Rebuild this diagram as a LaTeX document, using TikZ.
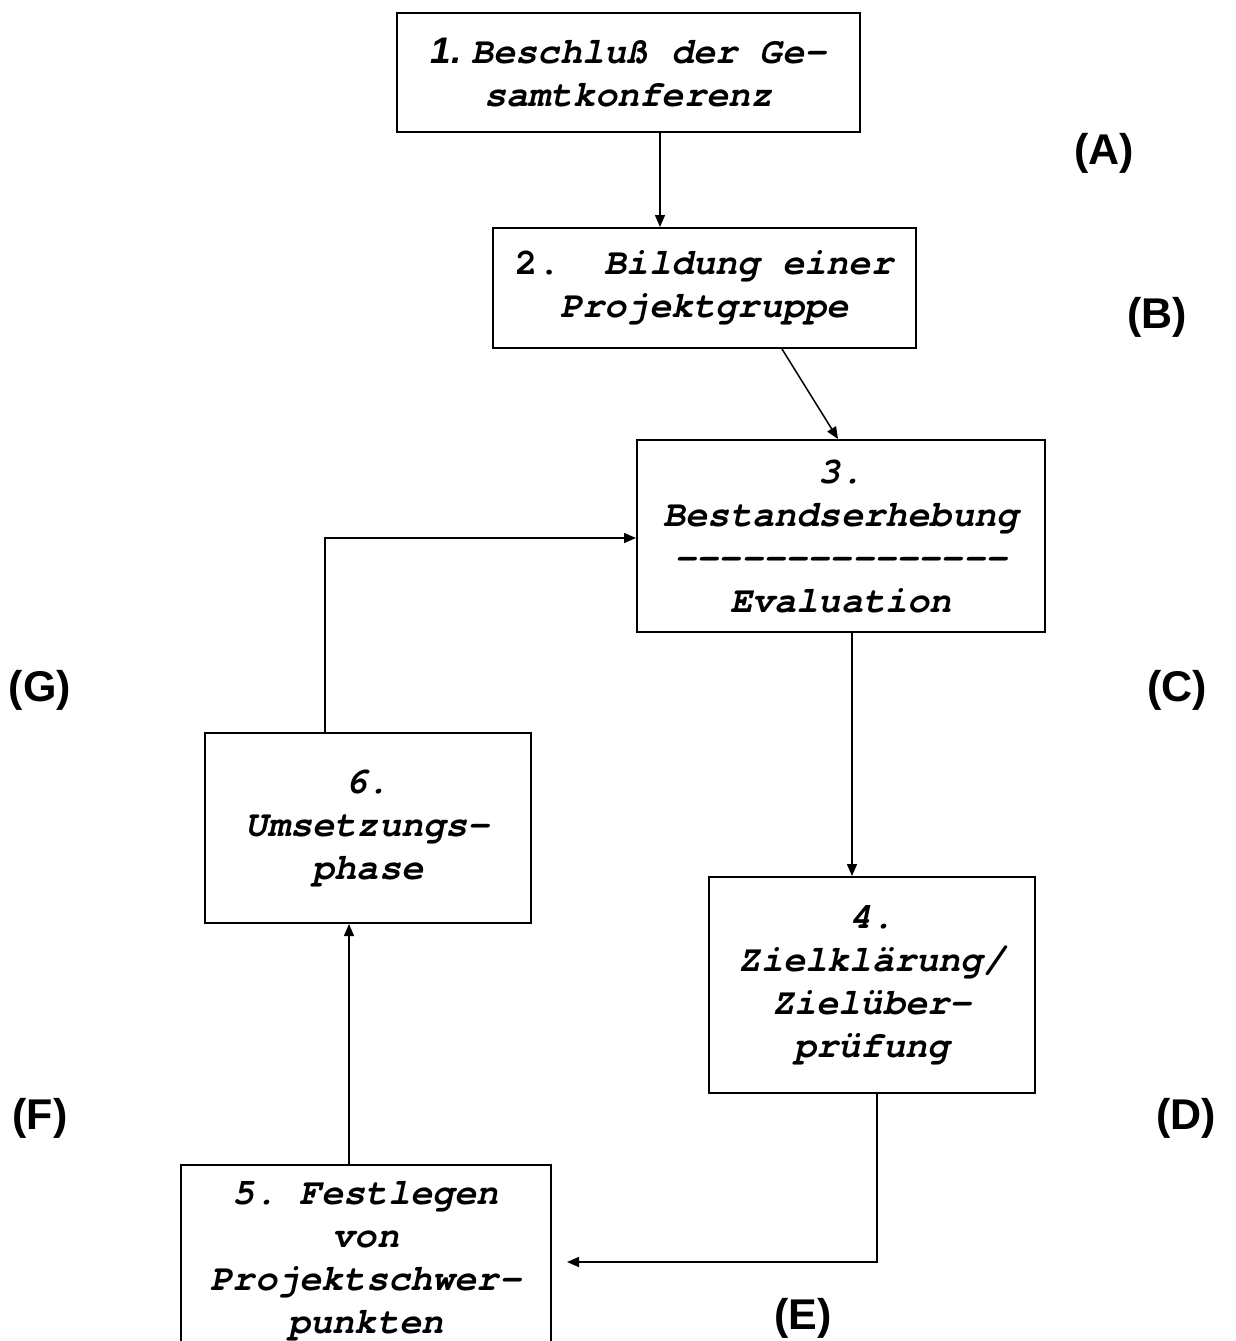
\documentclass[tikz,border=0pt]{standalone}
\usepackage{fontspec}
\setmonofont{texgyrecursor}[Extension=.otf, UprightFont=*-regular, BoldFont=*-bold, ItalicFont=*-italic, BoldItalicFont=*-bolditalic]
\newfontfamily\arialf{Liberation Sans}
\usetikzlibrary{arrows.meta}
\begin{document}
\begin{tikzpicture}[x=0.5pt,y=-0.5pt,
 box/.style={draw,line width=1pt,inner sep=0pt,align=center,
   font=\ttfamily\bfseries\itshape\fontsize{18.5}{21.5}\selectfont},
 conn/.style={line width=0.75pt},
 arr/.style={conn,-{Triangle[length=6pt,width=5pt]}},
 lab/.style={font=\arialf\bfseries\fontsize{21.5}{25}\selectfont}]
\useasboundingbox (0,0) rectangle (1236,1341);
\fill[white] (0,0) rectangle (1236,1341);

\node[box,minimum width=231.5pt,minimum height=59.5pt] (b1) at (628.5,72.5)
  {{\arialf\bfseries\itshape 1.}\hspace{5pt}Beschluß der Ge-\\samtkonferenz};
\node[box,minimum width=211.5pt,minimum height=60pt] (b2) at (704.5,288)
  {{\upshape 2.}\ \ Bildung einer\\Projektgruppe};
\node[box,minimum width=204pt,minimum height=96pt] (b3) at (841,536)
  {3.\\Bestandserhebung\\---------------\\Evaluation};
\node[box,minimum width=163pt,minimum height=108pt] (b4) at (872,985)
  {4.\\Zielklärung/\\Zielüber-\\prüfung};
\node[box,minimum width=185pt,minimum height=96.5pt] (b5) at (366,1261.5)
  {5. Festlegen\\von\\Projektschwer-\\punkten};
\node[box,minimum width=163pt,minimum height=95pt] (b6) at (368,828)
  {6.\\Umsetzungs-\\phase};

\coordinate (k1) at (660,0);
\draw[arr] (b1.south -| k1) -- (b2.north -| k1);
\coordinate (k2a) at (782,0);
\coordinate (k2b) at (838,0);
\draw[arr] (b2.south -| k2a) -- (b3.north -| k2b);
\coordinate (k3) at (852,0);
\draw[arr] (b3.south -| k3) -- (b4.north -| k3);
\coordinate (k4) at (877,0);
\coordinate (e5) at (567,1262);
\draw[arr] (b4.south -| k4) |- (e5);
\coordinate (k5) at (349,0);
\draw[arr] (b5.north -| k5) -- (b6.south -| k5);
\coordinate (k6) at (325,538);
\draw[arr] (b6.north -| k6) |- (b3.west |- k6);

\node[lab] (lA) at (1104,153) {(A)};
\node[lab] (lB) at (1157,317) {(B)};
\node[lab] (lC) at (1177,690) {(C)};
\node[lab] (lG) at (40,690) {(G)};
\node[lab] (lF) at (40,1118) {(F)};
\node[lab] (lD) at (1186,1118) {(D)};
\node[lab] (lE) at (803,1318) {(E)};
\end{tikzpicture}
\end{document}
